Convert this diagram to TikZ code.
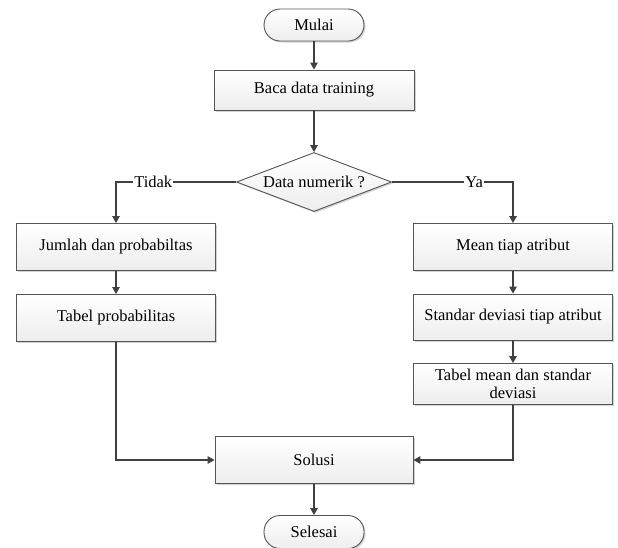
\documentclass[tikz,border=0pt]{standalone}
\usepackage{fontspec}
\setmainfont{Liberation Serif}
\usetikzlibrary{arrows.meta,shapes.geometric,shadows}
\definecolor{linec}{HTML}{404040}
\definecolor{boxc}{HTML}{555555}
\tikzset{
  base/.style={draw=boxc, line width=0.9pt, top color=white, bottom color=gray!14,
    drop shadow={shadow xshift=1.5pt, shadow yshift=-1.5pt, opacity=0.35, fill=gray},
    font=\fontsize{16.5}{18.5}\selectfont, inner sep=0pt, align=center},
  procbox/.style={base, rectangle, minimum width=199pt},
  termbox/.style={base, rectangle, rounded corners=16pt, minimum width=100pt, minimum height=32pt},
  decbox/.style={base, diamond, minimum width=155pt, minimum height=59pt},
  arr/.style={draw=linec, line width=1.2pt, -{Triangle[length=7pt,width=7.5pt]}},
  lbl/.style={fill=white, inner sep=1pt, font=\fontsize{16.5}{18.5}\selectfont}
}
\begin{document}
\begin{tikzpicture}[x=1pt,y=-1pt]
\useasboundingbox (0,0) rectangle (618,547);
\node[termbox] (mulai) at (314,25) {Mulai};
\node[procbox, minimum width=200pt, minimum height=40pt] (baca) at (314,90) {Baca data training};
\node[decbox, label={center:{\fontsize{16.5}{18.5}\selectfont Data numerik ?}}] (dec) at (314,182) {};
\node[procbox, minimum height=47pt] (jumlah) at (116,247) {Jumlah dan probabiltas};
\node[procbox, minimum height=47pt] (tabelp) at (116,318) {Tabel probabilitas};
\node[procbox, minimum height=47pt] (mean) at (513,247) {Mean tiap atribut};
\node[procbox, minimum height=46pt] (std) at (513,317) {Standar deviasi tiap atribut};
\node[procbox, minimum height=41pt] (tabm) at (513,384) {Tabel mean dan standar\\deviasi};
\node[procbox, minimum width=198pt, minimum height=47pt] (solusi) at (314,460) {Solusi};
\node[termbox, minimum height=33pt] (selesai) at (314,532) {Selesai};

\draw[arr] (mulai) -- (baca);
\draw[arr] (baca) -- (dec);
\draw[arr] (dec.west) -- node[lbl, pos=0.69] {Tidak} (jumlah.north |- dec.west) -- (jumlah.north);
\draw[arr] (dec.east) -- node[lbl, pos=0.68] {Ya} (mean.north |- dec.east) -- (mean.north);
\draw[arr] (jumlah) -- (tabelp);
\draw[arr] (mean) -- (std);
\draw[arr] (std) -- (tabm);
\draw[arr] (tabelp.south) |- (solusi.west);
\draw[arr] (tabm.south) |- (solusi.east);
\draw[arr] (solusi) -- (selesai);
\end{tikzpicture}
\end{document}
